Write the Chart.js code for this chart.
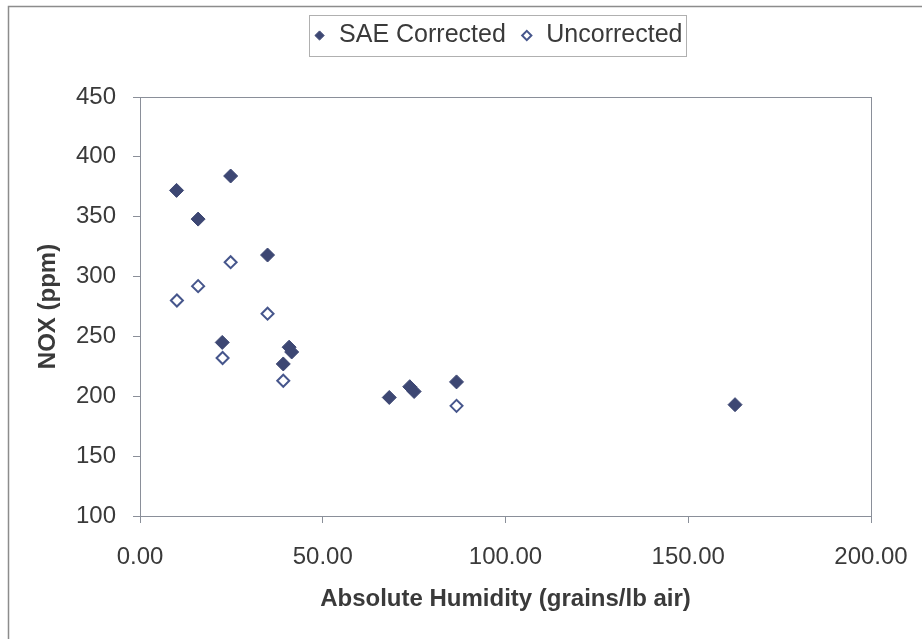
<!DOCTYPE html>
<html>
<head>
<meta charset="utf-8">
<script src="https://cdn.jsdelivr.net/npm/chart.js@4.4.1/dist/chart.umd.min.js"></script>
<style>
  body { margin: 0; background: #ffffff; }
  #wrap { width: 922px; height: 639px; position: relative; }
</style>
</head>
<body>
<div id="wrap"><canvas id="noxChart"></canvas></div>
<script>
// values
const humidityCorrected = [10.0, 15.9, 24.8, 34.9, 22.5, 39.2, 40.8, 41.5, 68.2, 73.8, 75.0, 86.6, 162.8];
const noxCorrected      = [372, 348, 384, 318, 245, 227, 241, 237, 199, 208, 204, 212, 193];
const humidityUncorrected = [10.1, 15.9, 24.8, 34.9, 22.6, 39.2, 86.6];
const noxUncorrected      = [280, 292, 312, 269, 232, 213, 192];
const xTicks = [0, 50, 100, 150, 200];
const yTicks = [100, 150, 200, 250, 300, 350, 400, 450];

const toPoints = (xs, ys) => xs.map((x, i) => ({ x: x, y: ys[i] }));

const textColor = '#3a3a3a';
const axisColor = '#8a8f99';

// outer frame + plot box + legend box, and legend moved to where the reference has it
const framePlugin = {
    id: 'frame',
    afterLayout(chart) {
        const lg = chart.legend;
        const dx = 62, newTop = 9;
        const h = lg.bottom - lg.top;
        lg.left += dx;
        lg.right += dx;
        lg.top = newTop;
        lg.bottom = newTop + h;
    },
    beforeDraw(chart) {
        const ctx = chart.ctx;
        ctx.save();
        ctx.fillStyle = '#ffffff';
        ctx.fillRect(0, 0, chart.width, chart.height);
        ctx.strokeStyle = '#8c8c8c';
        ctx.lineWidth = 1.5;
        ctx.strokeRect(8.5, 6.5, chart.width + 10, chart.height + 10);
        ctx.restore();
    },
    afterDatasetsDraw(chart) {
        const a = chart.chartArea;
        const ctx = chart.ctx;
        ctx.save();
        ctx.strokeStyle = axisColor;
        ctx.lineWidth = 1;
        ctx.strokeRect(Math.round(a.left) + 0.5, Math.round(a.top) + 0.5,
            Math.round(a.right - a.left), Math.round(a.bottom - a.top));
        ctx.restore();
    },
    afterDraw(chart) {
        const boxes = chart.legend.legendHitBoxes;
        if (!boxes || !boxes.length) return;
        let minX = Infinity, maxX = -Infinity, minY = Infinity, maxY = -Infinity;
        boxes.forEach(b => {
            minX = Math.min(minX, b.left);
            maxX = Math.max(maxX, b.left + b.width);
            minY = Math.min(minY, b.top);
            maxY = Math.max(maxY, b.top + b.height);
        });
        const cy = (minY + maxY) / 2;
        const ctx = chart.ctx;
        ctx.save();
        ctx.strokeStyle = '#b0b0b0';
        ctx.lineWidth = 1;
        ctx.strokeRect(Math.round(minX - 4) + 0.5, Math.round(cy - 21) + 0.5,
            Math.round(maxX - minX + 7), 41);
        ctx.restore();
    }
};

new Chart(document.getElementById('noxChart'), {
    type: 'scatter',
    data: {
        datasets: [{
            label: 'SAE Corrected',
            data: toPoints(humidityCorrected, noxCorrected),
            pointStyle: 'rectRot',
            pointRadius: 7,
            backgroundColor: '#3d4773',
            borderColor: '#3d4773',
            borderWidth: 1
        }, {
            label: 'Uncorrected',
            data: toPoints(humidityUncorrected, noxUncorrected),
            pointStyle: 'rectRot',
            pointRadius: 6,
            backgroundColor: '#ffffff',
            borderColor: '#46568c',
            borderWidth: 2
        }]
    },
    options: {
        responsive: true,
        maintainAspectRatio: false,
        animation: false,
        layout: { padding: { top: 48, left: 0, right: 51, bottom: 0 } },
        scales: {
            x: {
                type: 'linear',
                min: 0,
                max: 200,
                afterBuildTicks: s => { s.ticks = xTicks.map(v => ({ value: v })); },
                afterFit: s => { s.height = 123; s.paddingLeft = 0; s.paddingRight = 0; },
                ticks: {
                    color: textColor,
                    font: { family: 'Liberation Sans, Arial', size: 24 },
                    padding: 20,
                    maxRotation: 0,
                    callback: v => v.toFixed(2)
                },
                grid: { drawOnChartArea: false, drawTicks: true, tickLength: 7, color: axisColor },
                border: { color: axisColor },
                title: {
                    display: true,
                    text: 'Absolute Humidity (grains/lb air)',
                    color: textColor,
                    font: { family: 'Liberation Sans, Arial', size: 24, weight: 'bold' },
                    padding: { top: 0, bottom: 25 }
                }
            },
            y: {
                type: 'linear',
                min: 100,
                max: 450,
                afterBuildTicks: s => { s.ticks = yTicks.map(v => ({ value: v })); },
                afterFit: s => { s.width = 140; s.paddingTop = 0; s.paddingBottom = 0; },
                ticks: {
                    color: textColor,
                    font: { family: 'Liberation Sans, Arial', size: 24 },
                    padding: 17
                },
                grid: { drawOnChartArea: false, drawTicks: true, tickLength: 7, color: axisColor },
                border: { color: axisColor },
                title: {
                    display: true,
                    text: 'NOX (ppm)',
                    color: textColor,
                    font: { family: 'Liberation Sans, Arial', size: 24, weight: 'bold' },
                    padding: { top: 34, bottom: 0 }
                }
            }
        },
        plugins: {
            legend: {
                position: 'top',
                labels: {
                    usePointStyle: true,
                    boxWidth: 14,
                    boxHeight: 6.5,
                    padding: 14,
                    color: textColor,
                    font: { family: 'Liberation Sans, Arial', size: 25 }
                }
            },
            tooltip: { enabled: false }
        }
    },
    plugins: [framePlugin]
});
</script>
</body>
</html>
